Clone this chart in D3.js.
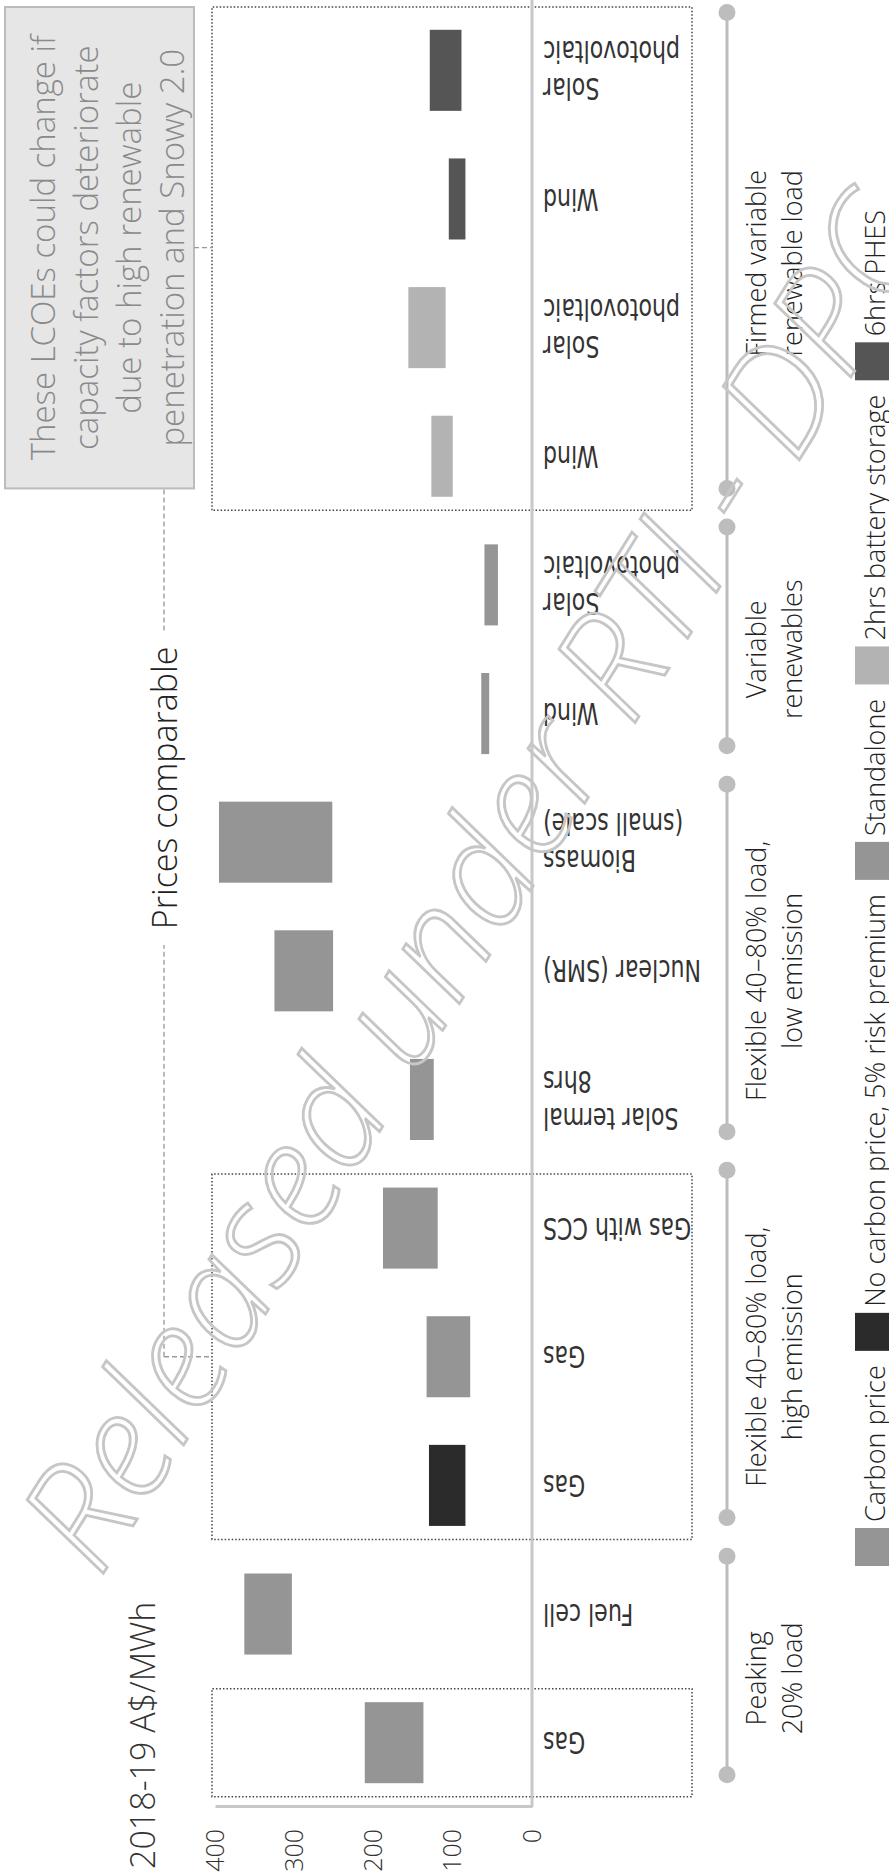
<!DOCTYPE html>
<html>
<head>
<meta charset="utf-8">
<script src="https://cdn.jsdelivr.net/npm/d3@7"></script>
<style>
  body { margin: 0; background: #fff; }
  svg { display: block; }
  text { font-family: "Open Sans", "Noto Sans", sans-serif; font-weight: 300; }
  .cat { font-family: "Liberation Sans Narrow", "DejaVu Sans Condensed", sans-serif; font-weight: 400; }
</style>
</head>
<body>
<div id="chart"></div>
<script>
// categories, left to right of the (landscape) chart
var techNames = ["Gas", "Fuel cell", "Gas", "Gas", "Gas with CCS", "Solar termal|8hrs",
  "Nuclear (SMR)", "Biomass|(small scale)", "Wind", "Solar|photovoltaic",
  "Wind", "Solar|photovoltaic", "Wind", "Solar|photovoltaic"];
var lowValues  = [137, 303, 84, 78, 119, 124, 251, 252, 54, 43, 100, 109, 84, 89];
var highValues = [211, 363, 130, 133, 188, 154, 325, 395, 64, 60, 127, 156, 105, 129];
var seriesNames = ["Carbon price", "Standalone", "No carbon price, 5% risk premium",
  "Carbon price", "Carbon price", "Standalone", "Standalone", "Standalone",
  "Standalone", "Standalone", "2hrs battery storage", "2hrs battery storage",
  "6hrs PHES", "6hrs PHES"];
var legendNames = ["Carbon price", "No carbon price, 5% risk premium", "Standalone",
  "2hrs battery storage", "6hrs PHES"];
var groupNames = ["Peaking|20% load", "Flexible 40–80% load,|high emission",
  "Flexible 40–80% load,|low emission", "Variable|renewables", "Firmed variable|renewable load"];
var groupSizes = [2, 3, 3, 2, 4];
var boxedRuns = [[0, 0], [2, 4], [10, 13]];
var yTicks = [0, 100, 200, 300, 400];
var titleText = "2018-19 A$/MWh";
var noteLines = ["These LCOEs could change if", "capacity factors deteriorate",
  "due to high renewable", "penetration and Snowy 2.0"];
var bracketText = "Prices comparable";
var watermarkText = "Released under RTI - DPC";

// the chart is laid out landscape (W x H) and turned a quarter turn onto the page
var W = 1876, H = 889;

var color = d3.scaleOrdinal()
  .domain(legendNames)
  .range(["#959595", "#2b2b2b", "#959595", "#b3b3b3", "#555555"]);

var ids = d3.range(techNames.length);
var last = ids.length - 1;
var x = d3.scaleBand().domain(ids).range([69, 1870]).paddingInner(0.37).paddingOuter(0.185);
var y = d3.scaleLinear().domain([0, 400]).range([532, 215]);
var step = x.step(), bw = x.bandwidth();
function cx(i) { return x(i) + bw / 2; }

var svg = d3.select('#chart').append('svg')
  .attr('width', H)
  .attr('height', W);

var g = svg.append('g')
  .attr('transform', 'translate(0,' + W + ') rotate(-90)');

// title
g.append('text')
  .attr('x', 7).attr('y', 155)
  .attr('font-size', 34)
  .attr('fill', '#333')
  .text(titleText);

// note box
var noteX0 = cx(10) - 0.25 * step, noteX1 = W - 7;
g.append('rect')
  .attr('x', noteX0).attr('y', 5)
  .attr('width', noteX1 - noteX0).attr('height', 189)
  .attr('fill', '#e6e6e6')
  .attr('stroke', '#bcbcbc')
  .attr('stroke-width', 2);
noteLines.forEach(function(ln, k) {
  g.append('text')
    .attr('x', (noteX0 + noteX1) / 2).attr('y', 55 + k * 43)
    .attr('text-anchor', 'middle')
    .attr('font-size', 33)
    .attr('fill', '#8a8a8a')
    .text(ln);
});

// dotted boxes round some categories
boxedRuns.forEach(function(r) {
  var x0 = cx(r[0]) - 0.42 * step;
  var x1 = r[1] === last ? W - 7 : cx(r[1]) + 0.42 * step;
  g.append('rect')
    .attr('x', x0).attr('y', y(400) - 3)
    .attr('width', x1 - x0).attr('height', 692 - (y(400) - 3))
    .attr('fill', 'none')
    .attr('stroke', '#444')
    .attr('stroke-width', 1.5)
    .attr('stroke-dasharray', '1.5,2');
});

// dashed connectors
function dashLine(x1, y1, x2, y2) {
  g.append('line')
    .attr('x1', x1).attr('y1', y1).attr('x2', x2).attr('y2', y2)
    .attr('stroke', '#999')
    .attr('stroke-width', 1.3)
    .attr('stroke-dasharray', '5,3');
}
dashLine((noteX0 + noteX1) / 2, 194, (noteX0 + noteX1) / 2, y(400) - 3);

var pcMid = (cx(7) + cx(8)) / 2 - 10;
var pcText = g.append('text')
  .attr('x', pcMid).attr('y', 164)
  .attr('text-anchor', 'middle')
  .attr('dominant-baseline', 'central')
  .attr('font-size', 34)
  .attr('fill', '#222')
  .text(bracketText);
var pcLen = pcText.node().getComputedTextLength();
dashLine(cx(3), 164, pcMid - pcLen / 2 - 16, 164);
dashLine(pcMid + pcLen / 2 + 16, 164, noteX0, 164);
dashLine(cx(3), 164, cx(3), y(400) - 3);

// bars
g.selectAll('rect.bar')
  .data(ids)
  .join('rect')
  .attr('class', 'bar')
  .attr('x', function(i) { return x(i); })
  .attr('width', bw)
  .attr('y', function(i) { return y(highValues[i]); })
  .attr('height', function(i) { return y(lowValues[i]) - y(highValues[i]); })
  .attr('fill', function(i) { return color(seriesNames[i]); });

// axes
g.append('line')
  .attr('x1', 69).attr('x2', W)
  .attr('y1', y(0)).attr('y2', y(0))
  .attr('stroke', '#c8c8c8')
  .attr('stroke-width', 3);

var yAxis = g.append('g')
  .attr('transform', 'translate(69,0)')
  .call(d3.axisLeft(y).tickValues(yTicks).tickSize(0).tickSizeOuter(0).tickPadding(22));
yAxis.attr('font-family', null);
yAxis.select('.domain').attr('stroke', '#c8c8c8').attr('stroke-width', 3);
yAxis.selectAll('text')
  .attr('font-size', 25)
  .attr('fill', '#333');

// category labels (narrow face, squeezed along the reading direction)
ids.forEach(function(i) {
  var lines = techNames[i].split('|');
  lines.forEach(function(ln, k) {
    g.append('text')
      .attr('class', 'cat')
      .attr('transform', 'translate(' + (cx(i) + (k - (lines.length - 1) / 2) * 37) + ',' + (y(0) + 11) + ') rotate(-90) scale(0.82,1)')
      .attr('text-anchor', 'end')
      .attr('dominant-baseline', 'central')
      .attr('font-size', 30)
      .attr('fill', '#333')
      .text(ln);
  });
});

// group brackets
var start = 0;
groupNames.forEach(function(name, j) {
  var a = start, b = start + groupSizes[j] - 1;
  start += groupSizes[j];
  var x0 = cx(a) - 0.25 * step, x1 = Math.min(cx(b) + 0.45 * step, W - 7);
  g.append('line')
    .attr('x1', x0).attr('x2', x1).attr('y1', 727).attr('y2', 727)
    .attr('stroke', '#bdbdbd')
    .attr('stroke-width', 3);
  [x0, x1].forEach(function(px) {
    g.append('circle').attr('cx', px).attr('cy', 727).attr('r', 8.5).attr('fill', '#bdbdbd');
  });
  name.split('|').forEach(function(ln, k) {
    g.append('text')
      .attr('x', (cx(a) + cx(b)) / 2).attr('y', 766 + k * 36)
      .attr('text-anchor', 'middle')
      .attr('font-size', 27)
      .attr('fill', '#222')
      .text(ln);
  });
});

// legend, spread between fixed ends
var legX0 = 310, legX1 = 1666, sq = 38;
var leg = g.append('g');
var items = legendNames.map(function(n) {
  var it = leg.append('g');
  it.append('rect').attr('width', sq).attr('height', sq).attr('y', 855).attr('fill', color(n));
  var t = it.append('text')
    .attr('x', sq + 6).attr('y', 885)
    .attr('font-size', 27)
    .attr('fill', '#222')
    .text(n);
  return { g: it, w: sq + 6 + t.node().getComputedTextLength() };
});
var gap = (legX1 - legX0 - d3.sum(items, function(d) { return d.w; })) / (items.length - 1);
var pos = legX0;
items.forEach(function(d) {
  d.g.attr('transform', 'translate(' + pos + ',0)');
  pos += d.w + gap;
});

// watermark
svg.append('text')
  .attr('transform', 'translate(470,880) rotate(-58)')
  .attr('text-anchor', 'middle')
  .attr('dominant-baseline', 'central')
  .attr('font-family', '"DejaVu Sans", sans-serif')
  .attr('font-size', 145)
  .attr('font-style', 'oblique')
  .attr('font-weight', 400)
  .attr('fill', 'none')
  .attr('stroke', '#c6c6c6')
  .attr('stroke-width', 2.8)
  .text(watermarkText);
</script>
</body>
</html>
